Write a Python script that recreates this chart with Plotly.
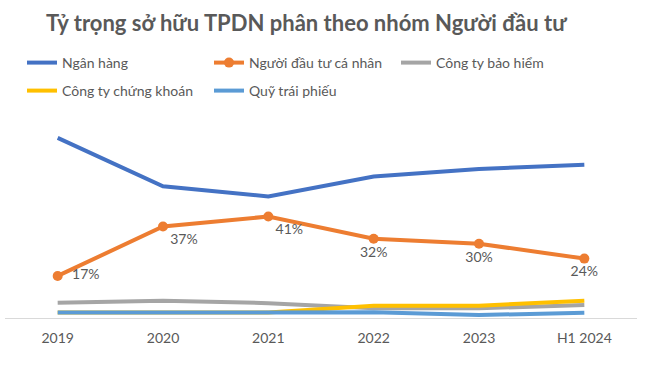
import plotly.graph_objects as go

categories = ["2019", "2020", "2021", "2022", "2023", "H1 2024"]
ngan_hang = [72.8, 53.2, 49.1, 57.2, 60.2, 61.9]
ca_nhan = [17, 37, 41, 32, 30, 24]
bao_hiem = [6.2, 7.0, 6.0, 3.9, 3.9, 5.3]
chung_khoan = [2.2, 2.2, 2.2, 5.0, 5.0, 7.0]
quy_trai_phieu = [2.2, 2.2, 2.2, 2.3, 1.2, 2.1]
label_pos = ["middle right", "bottom right", "bottom right", "bottom center", "bottom center", "bottom center"]

FONT = "Lato"
TXT = "#595959"

fig = go.Figure()
fig.add_trace(go.Scatter(x=categories, y=ngan_hang, name="Ngân hàng", mode="lines",
                         line=dict(color="#4472C4", width=4), legend="legend"))
fig.add_trace(go.Scatter(x=categories, y=ca_nhan, name="Người đầu tư cá nhân", mode="lines+markers+text",
                         line=dict(color="#ED7D31", width=4), marker=dict(size=10, color="#ED7D31"),
                         text=[f"  {v}%" if p == "middle right" else f"{v}%" for v, p in zip(ca_nhan, label_pos)],
                         textposition=label_pos,
                         textfont=dict(family=FONT, size=14, color=TXT), legend="legend"))
fig.add_trace(go.Scatter(x=categories, y=bao_hiem, name="Công ty bảo hiểm", mode="lines",
                         line=dict(color="#A5A5A5", width=4), legend="legend"))
fig.add_trace(go.Scatter(x=categories, y=chung_khoan, name="Công ty chứng khoán", mode="lines",
                         line=dict(color="#FFC000", width=4), legend="legend2"))
fig.add_trace(go.Scatter(x=categories, y=quy_trai_phieu, name="Quỹ trái phiếu", mode="lines",
                         line=dict(color="#5B9BD5", width=4), legend="legend2"))

legend_common = dict(orientation="h", xref="container", x=22 / 650, xanchor="left",
                     yref="container", yanchor="middle", entrywidth=142, entrywidthmode="pixels",
                     font=dict(family=FONT, size=14, color=TXT), bgcolor="rgba(0,0,0,0)",
                     tracegroupgap=0, itemwidth=30)

fig.update_layout(
    width=650, height=366,
    margin=dict(l=5, r=13, t=120, b=48),
    paper_bgcolor="white", plot_bgcolor="white",
    title=dict(text="<b>Tỷ trọng sở hữu TPDN phân theo nhóm Người đầu tư</b>",
               font=dict(family=FONT, size=22, color=TXT),
               x=46 / 650, xanchor="left", xref="container",
               y=1 - 23 / 366, yanchor="middle", yref="container"),
    legend=dict(**legend_common, y=1 - 63 / 366),
    legend2=dict(**legend_common, y=1 - 91 / 366),
    xaxis=dict(showgrid=False, showline=True, linecolor="#D9D9D9", linewidth=1,
               range=[-0.5, 5.5], ticks="", ticklabelstandoff=7,
               tickfont=dict(family=FONT, size=14, color=TXT), fixedrange=True),
    yaxis=dict(range=[0, 80], visible=False, showgrid=False, zeroline=False, fixedrange=True),
    showlegend=True,
    hovermode=False,
)

fig.write_html("out.html", config={"displayModeBar": False},
               post_script="document.body.style.margin='0';")
